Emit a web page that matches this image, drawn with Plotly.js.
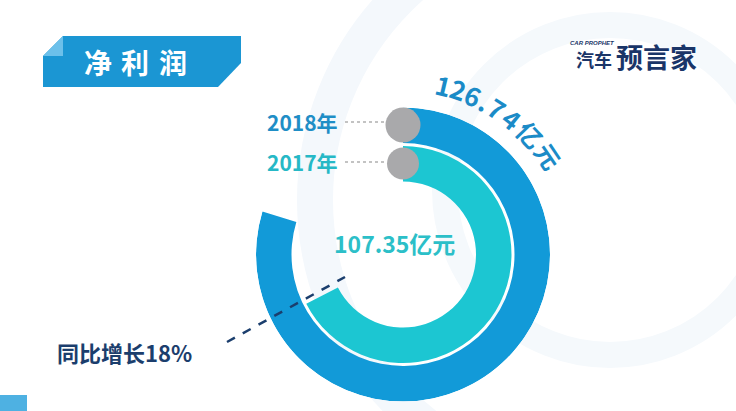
<!DOCTYPE html>
<html>
<head>
<meta charset="utf-8">
<script src="https://cdn.plot.ly/plotly-3.0.1.min.js"></script>
<style>html,body{margin:0;padding:0;background:#fff;}#chart{width:736px;height:411px;}</style>
</head>
<body>
<div id="chart"></div>
<script>
// ---- data ----
const categories = ['2017年', '2018年'];
const profits = [107.35, 126.74];          // 亿元
const valueLabels = ['107.35亿元', '126.74亿元'];
const growthLabel = '同比增长18%';
const chartTitle = '净利润';
const fullTurnValue = 159;                 // value that would close a full circle

// ---- geometry / style ----
const W = 736, H = 411;
const CX = 403, CY = 254.5, R = 147;
const X = p => p / W, Y = p => 1 - p / H;
const ringBase = [73, 111.5];
const ringThick = [35.5, 35.5];
const ringColor = ['#1cc6d2', '#129ad8'];
const capR = [91, 129.5];
const capSize = [32, 35];
const labelColor = ['#26b8c6', '#1f8ec6'];
const FONT = 'Noto Sans CJK SC';

const toDeg = v => v / fullTurnValue * 360;

const traces = [];
for (let i = 0; i < profits.length; i++) {
  const d = toDeg(profits[i]);
  traces.push({
    type: 'barpolar', r: [ringThick[i]], base: [ringBase[i]], theta: [d / 2], width: [d],
    marker: {color: ringColor[i], line: {width: 0}}, hoverinfo: 'skip', showlegend: false
  });
}
for (let i = 0; i < profits.length; i++) {
  traces.push({
    type: 'scatterpolar', mode: 'markers', r: [capR[i]], theta: [0],
    marker: {color: '#a9a9ab', size: capSize[i], line: {width: 0}},
    hoverinfo: 'skip', showlegend: false
  });
}

const annotations = [];
const shapes = [];
function ann(o) { annotations.push(Object.assign({xref: 'paper', yref: 'paper', showarrow: false, xanchor: 'center', yanchor: 'middle'}, o)); }

// faint background rings
shapes.push({type: 'circle', xref: 'paper', yref: 'paper', layer: 'below',
  x0: X(600 - 285), x1: X(600 + 285), y0: Y(200 + 285), y1: Y(200 - 285),
  line: {color: '#f4f8fc', width: 36}});
shapes.push({type: 'circle', xref: 'paper', yref: 'paper', layer: 'below',
  x0: X(610 - 165), x1: X(610 + 165), y0: Y(190 + 165), y1: Y(190 - 165),
  line: {color: '#f5f9fc', width: 26}});

// title banner
shapes.push({type: 'path', xref: 'paper', yref: 'paper', layer: 'above',
  path: `M ${X(43)} ${Y(56)} L ${X(63)} ${Y(36)} L ${X(241)} ${Y(36)} L ${X(241)} ${Y(63)} L ${X(218)} ${Y(87)} L ${X(43)} ${Y(87)} Z`,
  fillcolor: '#1b96d3', line: {width: 0}});
shapes.push({type: 'path', xref: 'paper', yref: 'paper', layer: 'above',
  path: `M ${X(43)} ${Y(56)} L ${X(63)} ${Y(36)} L ${X(63)} ${Y(56)} Z`,
  fillcolor: '#6cc0ea', line: {width: 0}});
const titleX = [98, 135, 173];
chartTitle.split('').forEach((ch, k) => {
  ann({x: X(titleX[k]), y: Y(62), text: '<b>' + ch + '</b>',
    font: {family: FONT, size: 28, color: '#ffffff'}});
});

// bottom-left square
shapes.push({type: 'rect', xref: 'paper', yref: 'paper', x0: 0, x1: X(27), y0: 0, y1: Y(395),
  fillcolor: '#4eb1e2', line: {width: 0}});

// logo
ann({x: X(594), y: Y(58.5), text: '<b>汽车</b>',
  font: {family: FONT, size: 18, color: '#1a3568'}});
ann({x: X(656), y: Y(56), text: '<b>预言家</b>',
  font: {family: FONT, size: 27, color: '#1a3568'}});
ann({x: X(592), y: Y(43), text: '<b><i>CAR PROPHET</i></b>',
  font: {family: 'Liberation Sans', size: 6, color: '#1a3568'}});

// year labels + dotted leaders
const labelY = [162, 122];
for (let i = 0; i < categories.length; i++) {
  ann({x: X(340), y: Y(labelY[i]), xanchor: 'right',
    text: '<b>' + categories[i] + '</b>',
    font: {family: FONT, size: 21, color: labelColor[i]}});
  shapes.push({type: 'line', xref: 'paper', yref: 'paper', x0: X(345), x1: X(385), y0: Y(labelY[i]), y1: Y(labelY[i]),
    line: {color: '#b0b0b0', width: 1.5, dash: 'dot'}});
}

// 2017 value label (inside)
ann({x: X(394), y: Y(243),
  text: '<b>' + valueLabels[0] + '</b>',
  font: {family: FONT, size: 23, color: '#2cbfc8'}});

// 2018 value label curved along the outer ring
const curveChars = valueLabels[1].split('');
const curveAngles = [13.4, 18.4, 23.6, 28.0, 32.6, 38.8, 46.6, 56.0];
const curveR = [175, 175, 175, 174, 175, 175, 175, 176];
curveChars.forEach((ch, k) => {
  const a = curveAngles[k] * Math.PI / 180;
  const px = CX + curveR[k] * Math.sin(a), py = CY - curveR[k] * Math.cos(a);
  ann({x: X(px), y: Y(py),
    textangle: curveAngles[k], text: '<b>' + ch + '</b>',
    font: {family: FONT, size: /[0-9.]/.test(ch) ? 26 : 25, color: '#1b8bc7'}});
});

// growth label + dashed pointer
ann({x: X(55), y: Y(352), xanchor: 'left',
  text: '<b>' + growthLabel + '</b>',
  font: {family: FONT, size: 22, color: '#1b3e6d'}});
shapes.push({type: 'line', xref: 'paper', yref: 'paper', layer: 'above',
  x0: X(227), y0: Y(342), x1: X(345), y1: Y(277),
  line: {color: '#1b3e6d', width: 2.5, dash: 'dash'}});

const layout = {
  width: W, height: H, margin: {l: 0, r: 0, t: 0, b: 0},
  paper_bgcolor: '#ffffff', plot_bgcolor: 'rgba(0,0,0,0)',
  showlegend: false,
  polar: {
    domain: {x: [X(CX - R), X(CX + R)], y: [(H - CY - R) / H, (H - CY + R) / H]},
    bgcolor: 'rgba(0,0,0,0)', bargap: 0,
    radialaxis: {range: [0, R], visible: false, showgrid: false},
    angularaxis: {rotation: 90, direction: 'clockwise', visible: false, showgrid: false, showline: false, ticks: ''}
  },
  shapes: shapes, annotations: annotations
};

Plotly.newPlot('chart', traces, layout, {displayModeBar: false, staticPlot: true});
</script>
</body>
</html>
